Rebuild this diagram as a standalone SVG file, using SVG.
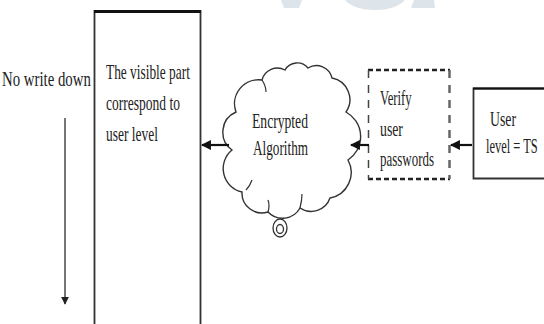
<svg xmlns="http://www.w3.org/2000/svg" width="544" height="324" viewBox="0 0 544 324">
<defs>
<style>
text{font-family:"Liberation Serif","Times New Roman",serif;fill:#222;font-size:21px}
.ln{stroke:#333;fill:none}
.arr{stroke:#111;stroke-width:2.2;fill:none}
.wm{fill:#dde4ea;stroke:none}
</style>
<marker id="ah" viewBox="0 0 10 10" refX="9" refY="5" markerWidth="4.5" markerHeight="4.5" orient="auto" markerUnits="strokeWidth">
<path d="M0,0 L10,5 L0,10 z" fill="#111"/>
</marker>
<marker id="ahd" viewBox="0 0 10 10" refX="9" refY="5" markerWidth="5" markerHeight="6" orient="auto" markerUnits="strokeWidth">
<path d="M0,0 L10,5 L0,10 z" fill="#222"/>
</marker>
</defs>
<rect width="544" height="324" fill="#fff"/>
<g id="watermark">
<path class="wm" d="M281,0 L302,0 L299,8 L284,8 z"/>
<path class="wm" d="M345,0 L405,0 Q396,10 375,10 Q354,10 345,0 z"/>
<path class="wm" d="M414,0 L434,0 L435,8 L411,8 z"/>
</g>
<g id="no-write-down">
<text transform="translate(2,86) scale(0.706,1)">No write down</text>
</g>
<g id="visible-part">
<path class="ln" d="M94.5,324 V11 H200.5 V324" stroke-width="1.8"/>
<line x1="94" y1="11.5" x2="201" y2="11.5" stroke="#111" stroke-width="3"/>
<text transform="translate(106,79) scale(0.637,1)">The visible part</text>
<text transform="translate(106,110) scale(0.644,1)">correspond to</text>
<text transform="translate(106,141) scale(0.641,1)">user level</text>
</g>
<g id="encrypted-algorithm">
<path class="ln" stroke-width="1.4" d="M232,150 A22,22 0 0 1 236,112 A24,24 0 0 1 262,80 A16,16 0 0 1 285,70 A14,14 0 0 1 308,68 A16,16 0 0 1 332,78 A22,22 0 0 1 346,112 A28,28 0 0 1 348,160 A26,26 0 0 1 330,198 A20,20 0 0 1 300,208 A20,20 0 0 1 268,212 A20,20 0 0 1 242,192 A24,24 0 0 1 232,150 z"/>
<path class="ln" stroke-width="1.2" d="M246,190 Q250,186 252,180 M262,80 Q266,86 266,92 M300,208 Q302,200 302,194 M268,212 Q270,205 268,200"/>
<ellipse cx="280" cy="228" rx="7" ry="9" class="ln" stroke-width="1.3"/>
<ellipse cx="280" cy="229" rx="3.5" ry="4.5" class="ln" stroke-width="1.3"/>
<text transform="translate(252,128) scale(0.649,1)">Encrypted</text>
<text transform="translate(253,155) scale(0.629,1)">Algorithm</text>
</g>
<g id="verify-passwords">
<line x1="368" y1="70" x2="450" y2="70" stroke="#222" stroke-width="2.5" stroke-dasharray="5,3"/>
<line x1="368" y1="179" x2="450" y2="179" stroke="#222" stroke-width="2.5" stroke-dasharray="5,3"/>
<line x1="368.5" y1="70" x2="368.5" y2="179" stroke="#444" stroke-width="1.5" stroke-dasharray="8,7"/>
<line x1="449.5" y1="70" x2="449.5" y2="179" stroke="#666" stroke-width="2.5" stroke-dasharray="8,7"/>
<text transform="translate(380,105) scale(0.602,1)">Verify</text>
<text transform="translate(380,136) scale(0.657,1)">user</text>
<text transform="translate(380,166) scale(0.617,1)">passwords</text>
</g>
<g id="user-level">
<path class="ln" d="M546,88.5 H473.5 V178.5 H546" stroke-width="1.8"/>
<line x1="473" y1="88.5" x2="546" y2="88.5" stroke="#111" stroke-width="2.2"/>
<text transform="translate(490,126) scale(0.656,1)">User</text>
<text transform="translate(486,153) scale(0.593,1)">level = TS</text>
</g>
<g id="connectors">
<line class="arr" x1="229" y1="145" x2="202" y2="145" marker-end="url(#ah)"/>
<line class="arr" x1="369" y1="145" x2="351" y2="145" marker-end="url(#ah)"/>
<line class="arr" x1="472" y1="145" x2="451" y2="145" marker-end="url(#ah)"/>
<line x1="65" y1="118" x2="65" y2="304" stroke="#555" stroke-width="1.6" marker-end="url(#ahd)"/>
</g>
</svg>
